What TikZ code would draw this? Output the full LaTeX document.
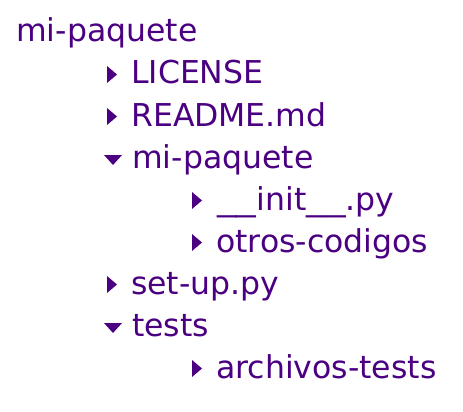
\documentclass[tikz,border=0pt]{standalone}
\usepackage{fontspec}
\setmainfont{DejaVu Sans}
\definecolor{ink}{RGB}{75,0,130}
\newcommand{\wideus}{\scalebox{1.25}[1]{\_}}
\begin{document}
\begin{tikzpicture}[x=1pt,y=1pt,
  item/.style={anchor=base west,inner sep=0pt,text=ink,font=\fontsize{31.5}{31.5}\selectfont},
  closedtri/.pic={\fill[ink] (0,-8.5) -- (10,0) -- (0,8.5) -- cycle;},
  opentri/.pic={\fill[ink] (-9,5) -- (9,5) -- (0,-5) -- cycle;}]
\useasboundingbox (0,0) rectangle (463,-412);
\node[item] (r)  at (16,-42)  {mi-paquete};
\node[item] (n1) at (131,-84) {LICENSE};
\node[item] (n2) at (131,-126) {README.md};
\node[item] (n3) at (132,-168) {mi-paquete};
\node[item] (n4) at (217,-210) {\wideus\wideus init\wideus\wideus.py};
\node[item] (n5) at (216,-252) {otros-codigos};
\node[item] (n6) at (131,-294) {set-up.py};
\node[item] (n7) at (132,-336) {tests};
\node[item] (n8) at (216,-378) {archivos-tests};
\pic at (107,-74.5) {closedtri};
\pic at (107,-116.5) {closedtri};
\pic at (113,-160) {opentri};
\pic at (192,-200.5) {closedtri};
\pic at (192,-242.5) {closedtri};
\pic at (107,-284.5) {closedtri};
\pic at (113,-328) {opentri};
\pic at (192,-368.5) {closedtri};
\end{tikzpicture}
\end{document}
